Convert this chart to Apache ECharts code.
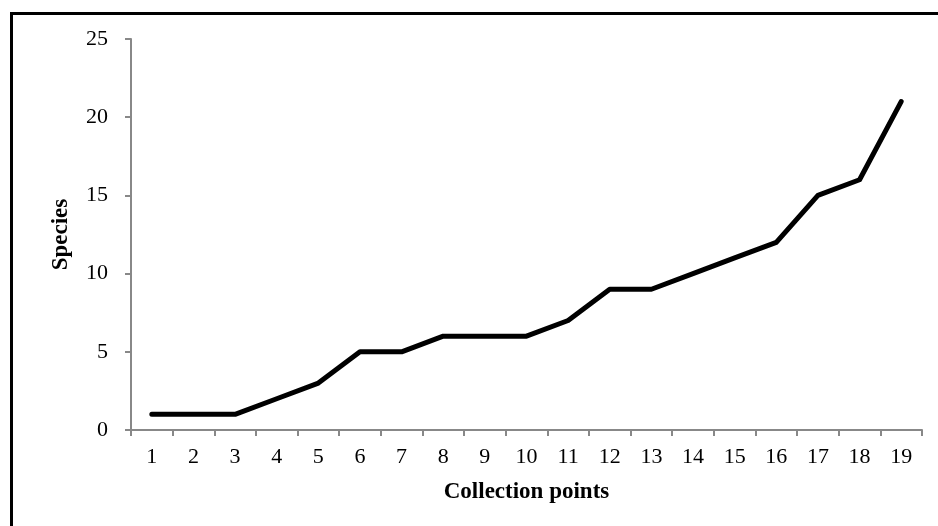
<!DOCTYPE html>
<html>
<head>
<meta charset="utf-8">
<script src="https://cdn.jsdelivr.net/npm/echarts@6/dist/echarts.min.js"></script>
<style>
html,body{margin:0;padding:0;background:#fff;}
#main{width:938px;height:526px;}
</style>
</head>
<body>
<div id="main"></div>
<script>
const categories = ['1','2','3','4','5','6','7','8','9','10','11','12','13','14','15','16','17','18','19'];
const species = [1,1,1,2,3,5,5,6,6,6,7,9,9,10,11,12,15,16,21];
const yTicks = [0,5,10,15,20,25];

const chart = echarts.init(document.getElementById('main'));
const serif = '"Liberation Serif", "Times New Roman", serif';
chart.setOption({
  animation: false,
  backgroundColor: '#fff',
  graphic: [{
    type: 'rect',
    shape: {x: 11.5, y: 13.5, width: 1000, height: 1000},
    style: {fill: 'none', stroke: '#000', lineWidth: 3},
    silent: true
  }],
  grid: {left: 131, right: 16, top: 39, bottom: 96, containLabel: false},
  xAxis: {
    type: 'category',
    data: categories,
    boundaryGap: true,
    name: 'Collection points',
    nameLocation: 'middle',
    nameGap: 51,
    nameTextStyle: {fontFamily: serif, fontSize: 23, fontWeight: 'bold', color: '#000'},
    axisLine: {lineStyle: {color: '#888', width: 2}},
    axisTick: {show: true, inside: false, length: 6, lineStyle: {color: '#888', width: 2}, alignWithLabel: false},
    axisLabel: {fontFamily: serif, fontSize: 22, color: '#000', margin: 16},
    splitLine: {show: false}
  },
  yAxis: {
    type: 'value',
    min: yTicks[0],
    max: yTicks[yTicks.length - 1],
    interval: 5,
    name: 'Species',
    nameLocation: 'middle',
    nameGap: 58,
    nameRotate: 90,
    nameTextStyle: {fontFamily: serif, fontSize: 23, fontWeight: 'bold', color: '#000'},
    axisLine: {show: true, lineStyle: {color: '#888', width: 2}},
    axisTick: {show: true, length: 6, lineStyle: {color: '#888', width: 2}},
    axisLabel: {fontFamily: serif, fontSize: 22, color: '#000', margin: 23},
    splitLine: {show: false}
  },
  series: [{
    type: 'line',
    data: species,
    showSymbol: false,
    symbol: 'none',
    lineStyle: {color: '#000', width: 5, cap: 'round', join: 'round'}
  }]
});
</script>
</body>
</html>
